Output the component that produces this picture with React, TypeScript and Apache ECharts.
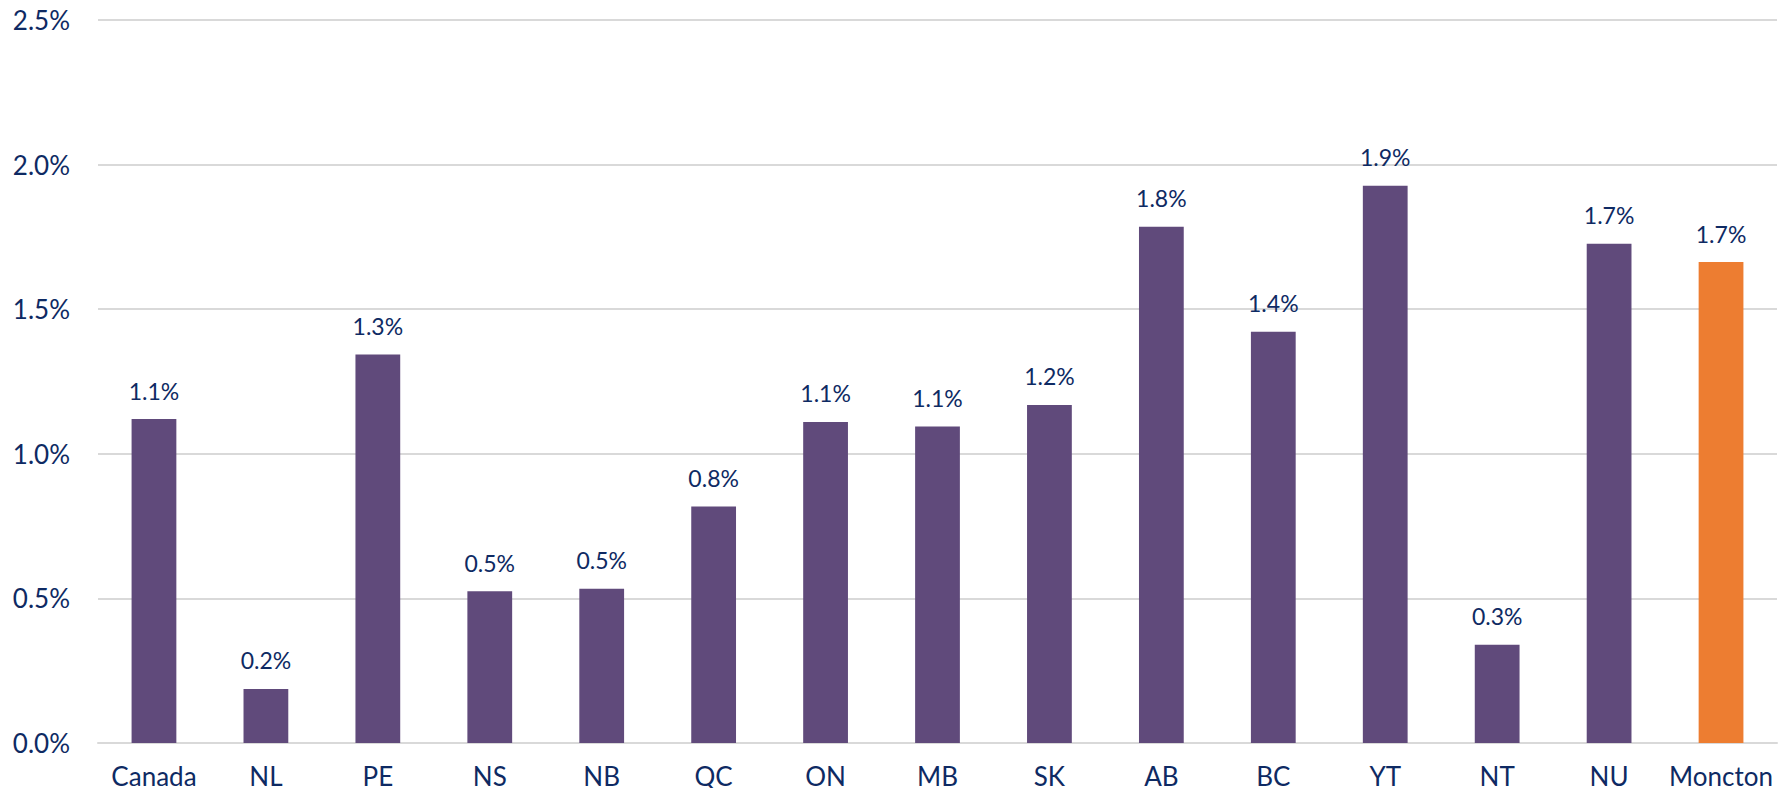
import React, { useEffect, useRef } from "react";
import * as echarts from "echarts";

const categories = ["Canada", "NL", "PE", "NS", "NB", "QC", "ON", "MB", "SK", "AB", "BC", "YT", "NT", "NU", "Moncton"];
const values = [1.12, 0.187, 1.343, 0.525, 0.533, 0.818, 1.11, 1.094, 1.169, 1.785, 1.422, 1.927, 0.34, 1.726, 1.663];
const highlighted = ["Moncton"];

const PURPLE = "#604A7B";
const ORANGE = "#ED7D31";
const TEXT = "#0E2A63";
const FONT = "Lato, 'Noto Sans', sans-serif";

export default function App() {
  const ref = useRef<HTMLDivElement>(null);
  useEffect(() => {
    if (!ref.current) return;
    const chart = echarts.init(ref.current, undefined, { renderer: "svg" });
    chart.setOption({
      animation: false,
      grid: { left: 98, right: 13, top: 20, bottom: 53, containLabel: false },
      xAxis: {
        type: "category",
        data: categories,
        axisLine: { lineStyle: { color: "#D9D9D9", width: 2 } },
        axisTick: { show: false },
        axisLabel: { color: TEXT, fontSize: 26, fontFamily: FONT, margin: 20, interval: 0 },
      },
      yAxis: {
        type: "value",
        min: 0,
        max: 2.5,
        interval: 0.5,
        axisLine: { show: false },
        axisTick: { show: false },
        splitLine: { lineStyle: { color: "#D9D9D9", width: 2 } },
        axisLabel: {
          color: TEXT,
          fontSize: 26,
          fontFamily: FONT,
          margin: 28,
          formatter: (v: number) => v.toFixed(1) + "%",
        },
      },
      series: [
        {
          type: "bar",
          barWidth: "40%",
          data: categories.map((c, i) => ({
            value: values[i],
            itemStyle: { color: highlighted.includes(c) ? ORANGE : PURPLE },
          })),
          label: {
            show: true,
            position: "top",
            distance: 17,
            color: TEXT,
            fontSize: 23,
            fontFamily: FONT,
            formatter: (p: any) => p.value.toFixed(1) + "%",
          },
        },
      ],
    });
    return () => chart.dispose();
  }, []);
  return <div ref={ref} style={{ width: 1790, height: 796, margin: -8 }} />;
}
